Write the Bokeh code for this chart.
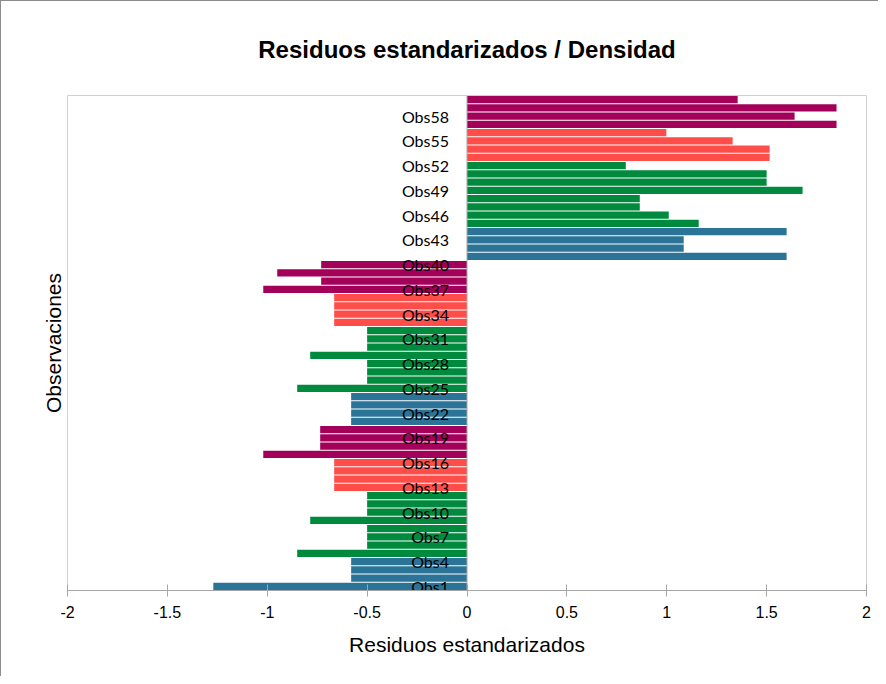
from bokeh.plotting import figure
from bokeh.models import Range1d, FixedTicker, Span, Title, ColumnDataSource
from bokeh.core.properties import value
from bokeh.embed import file_html
from bokeh.resources import INLINE

# ---- data ----
obs_index = list(range(1, 61))
residuals = [
    -1.27, -0.58, -0.58, -0.58,
    -0.85, -0.50, -0.50, -0.50, -0.785, -0.50, -0.50, -0.50,
    -0.665, -0.665, -0.665, -0.665,
    -1.02, -0.735, -0.735, -0.735,
    -0.58, -0.58, -0.58, -0.58,
    -0.85, -0.50, -0.50, -0.50, -0.785, -0.50, -0.50, -0.50,
    -0.665, -0.665, -0.665, -0.665,
    -1.02, -0.73, -0.95, -0.73,
    1.60, 1.085, 1.085, 1.60,
    1.16, 1.01, 0.865, 0.865, 1.68, 1.50, 1.50, 0.795,
    1.515, 1.515, 1.33, 0.998,
    1.85, 1.64, 1.85, 1.355,
]
groups = (["A"] * 4 + ["B"] * 8 + ["C"] * 4 + ["D"] * 4) * 3
group_colors = {"A": "#2B7497", "B": "#008A3E", "C": "#FF4D4A", "D": "#A3005A"}

label_positions = list(range(1, 61, 3))
label_texts = ["Obs%d" % i for i in label_positions]

x_ticks = [-2, -1.5, -1, -0.5, 0, 0.5, 1, 1.5, 2]
x_tick_labels = ["-2", "-1.5", "-1", "-0.5", "0", "0.5", "1", "1.5", "2"]

title_text = "Residuos estandarizados / Densidad"
x_title = "Residuos estandarizados"
y_title = "Observaciones"

# ---- figure ----
p = figure(width=878, height=676, output_backend="svg", toolbar_location=None,
           x_range=Range1d(-2, 2), y_range=Range1d(0.5, 60.5),
           min_border_left=66, min_border_right=13, min_border_top=94, min_border_bottom=87)
p.styles = {"border-top": "1px solid #8c8c8c", "border-left": "1px solid #8c8c8c"}

p.add_layout(Title(text=title_text, align="center", vertical_align="top",
                   text_font="Liberation Sans", text_font_size="24px",
                   text_font_style="bold", text_color="#000000", standoff=62), "above")

src = ColumnDataSource(dict(y=obs_index, right=residuals,
                            color=[group_colors[g] for g in groups]))
p.hbar(y="y", left=0, right="right", height=0.86, fill_color="color",
       line_color=None, source=src)

p.add_layout(Span(location=0, dimension="height", line_color="#a6a6a6", line_width=1))

lab = ColumnDataSource(dict(x=[0] * len(label_positions), y=label_positions, t=label_texts))
p.text(x="x", y="y", text="t", source=lab, x_offset=-18, text_align="right",
       text_baseline="middle", text_font=value("Lato"), text_font_size="16px",
       text_color="#000000")

p.xgrid.visible = False
p.ygrid.visible = False
p.outline_line_color = "#d0d0d0"
p.outline_line_width = 1

xa = p.xaxis[0]
xa.ticker = FixedTicker(ticks=x_ticks)
xa.major_label_overrides = {t: l for t, l in zip(x_ticks, x_tick_labels)}
xa.minor_tick_line_color = None
xa.major_tick_in = 6
xa.major_tick_out = 6
xa.axis_line_color = "#a6a6a6"
xa.major_tick_line_color = "#a6a6a6"
xa.major_label_text_font = "Liberation Sans"
xa.major_label_text_font_size = "16px"
xa.major_label_text_color = "#000000"
xa.major_label_standoff = 9
xa.axis_label = x_title
xa.axis_label_text_font = "Liberation Sans"
xa.axis_label_text_font_size = "21px"
xa.axis_label_text_font_style = "normal"
xa.axis_label_text_color = "#000000"
xa.axis_label_standoff = 12

ya = p.yaxis[0]
ya.ticker = FixedTicker(ticks=[])
ya.axis_line_color = None
ya.major_tick_line_color = None
ya.minor_tick_line_color = None
ya.major_label_text_font_size = "0px"
ya.axis_label = y_title
ya.axis_label_text_font = "Liberation Sans"
ya.axis_label_text_font_size = "21px"
ya.axis_label_text_font_style = "normal"
ya.axis_label_text_color = "#000000"
ya.axis_label_standoff = 3

open("out.html", "w").write(file_html(p, INLINE))
